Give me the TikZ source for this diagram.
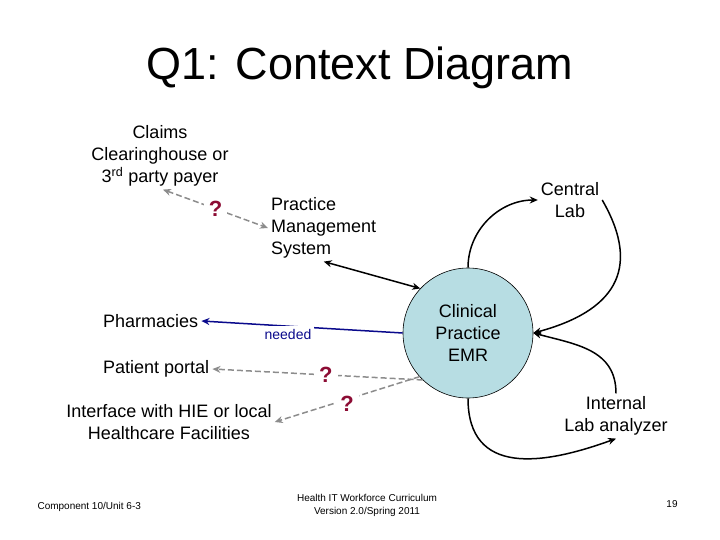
\documentclass[tikz,border=0pt]{standalone}
\usepackage{fontspec}
\setmainfont{Liberation Sans}
\usetikzlibrary{arrows.meta, positioning}

\definecolor{emrfill}{RGB}{183,221,227}
\definecolor{qred}{RGB}{140,12,52}
\definecolor{linkgray}{RGB}{140,140,140}
\definecolor{needblue}{RGB}{10,10,140}

\begin{document}
\begin{tikzpicture}[
    x=1pt, y=1pt,
    % ── Global ──
    font=\fontsize{18}{22}\selectfont,
    % ── Node Styles ──
    entity/.style={align=center, inner sep=3pt},
    system/.style={
        circle, draw=black, line width=0.6pt,
        fill=emrfill, minimum size=130pt,
        align=center, inner sep=0pt
    },
    qmark/.style={
        fill=white, text=qred, inner sep=5pt,
        font=\fontsize{22}{22}\selectfont\bfseries
    },
    footer/.style={align=center, font=\fontsize{10}{13}\selectfont},
    % ── Connector Styles ──
    flow/.style={line width=1.5pt, draw=black},
    uncertain/.style={
        line width=1.5pt, draw=linkgray,
        dash pattern=on 6pt off 3pt
    },
    needed/.style={line width=1.5pt, draw=needblue},
    tip/.style={-{Stealth[length=8pt, width=7pt]}},
    tips/.style={{Stealth[length=8pt, width=7pt]}-{Stealth[length=8pt, width=7pt]}},
]

\useasboundingbox (0,0) rectangle (720,-540);

% ════════════════════════════════════════════════════════
%  TITLE
% ════════════════════════════════════════════════════════

\node (title) at (360,-68) {\fontsize{45}{50}\selectfont Q1: Context Diagram};

% ════════════════════════════════════════════════════════
%  CENTRE: the EMR
% ════════════════════════════════════════════════════════

\node (emr) [system] at (468,-333) {Clinical\\Practice\\EMR};

% ════════════════════════════════════════════════════════
%  EXTERNAL ENTITIES
% ════════════════════════════════════════════════════════

\node (claims) [entity] at (160,-156)
    {Claims\\Clearinghouse or\\3\textsuperscript{rd} party payer};

\node (pms) [entity, align=left, anchor=west] at (268,-228)
    {Practice\\Management\\System};

\node (central) [entity] at (570,-200) {Central\\Lab};

\node (pharm) [entity, anchor=west] at (100,-321) {Pharmacies};

\node (portal) [entity, below=48pt of pharm.west, anchor=west] {Patient portal};

\node (hie) [entity] at (169,-422)
    {Interface with HIE or local\\Healthcare Facilities};

\node (internal) [entity] at (616,-416) {Internal\\Lab analyzer};

% ════════════════════════════════════════════════════════
%  ARROWS
% ════════════════════════════════════════════════════════

% Billing link (unsure)
\draw [uncertain, tips] ([xshift=3pt]claims.south) -- node[qmark, pos=0.5] {?} (pms.west);

% PMS <-> EMR
\draw [flow, tips] (pms.south) -- (emr.137);

% e-prescribing
\draw [needed, tip] (emr.west) -- node[pos=0.57, yshift=-8pt, fill=white, inner sep=3pt,
    text=needblue, font=\fontsize{14}{14}\selectfont] {needed} (pharm.east);

% Portal and HIE (unsure)
\draw [uncertain, tip] (emr.226) -- node[qmark, pos=0.46] {?} (portal.east);
\draw [uncertain, tip] (emr.222) -- node[qmark, pos=0.5, yshift=-4pt] {?} (hie.east);

% Lab loops
\draw [flow, tip] (emr.north) to[out=90, in=180] (central.west);
\draw [flow, tip] (central.east) to[out=-60, in=15, looseness=1.4] (emr.east);
\draw [flow, tip] (emr.south) to[out=-90, in=200, looseness=1.3] (internal.south);
\draw [flow, tip] (internal.north) to[out=90, in=-15, looseness=1.1] (emr.east);

% ════════════════════════════════════════════════════════
%  FOOTER
% ════════════════════════════════════════════════════════

\node (unit) [footer, anchor=west] at (34,-507) {Component 10/Unit 6-3};
\node (curric) [footer] at (367,-505)
    {Health IT Workforce Curriculum\\Version 2.0/Spring 2011};
\node (page) [footer] at (672,-504) {19};

\end{tikzpicture}
\end{document}
